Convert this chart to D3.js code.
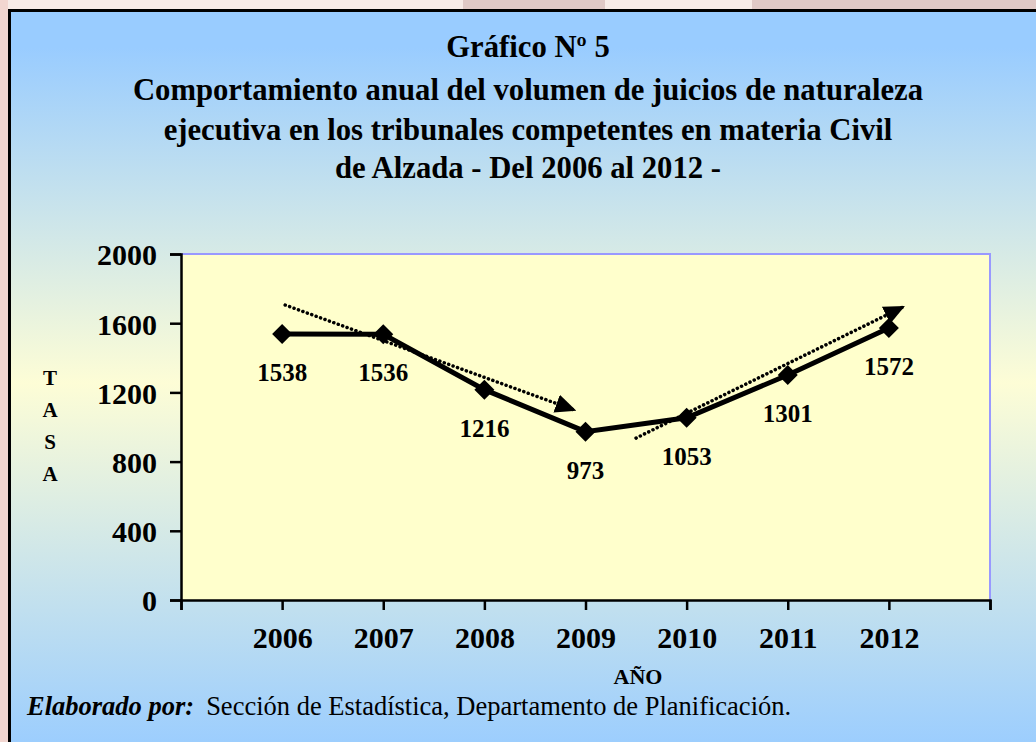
<!DOCTYPE html>
<html>
<head>
<meta charset="utf-8">
<script src="https://cdn.jsdelivr.net/npm/d3@7"></script>
<style>
  body { margin: 0; background: #f7ebe7; }
  svg { display: block; }
</style>
</head>
<body>
<div id="chart"></div>
<script>
// data
var years = [2006, 2007, 2008, 2009, 2010, 2011, 2012];
var values = [1538, 1536, 1216, 973, 1053, 1301, 1572];
var yTicks = [0, 400, 800, 1200, 1600, 2000];
// hand drawn trend arrows, [year, value] start -> end
var trendDown = [[2006.03, 1705], [2008.89, 1098]];
var trendUp = [[2009.5, 936], [2012.14, 1694]];
var titleLines = ["Gráfico Nº 5",
  "Comportamiento anual del volumen de juicios de naturaleza",
  "ejecutiva en los tribunales competentes en materia Civil",
  "de Alzada - Del 2006 al 2012 -"];

var W = 1036, H = 742;
var serif = "'Liberation Serif', 'Times New Roman', serif";

var svg = d3.select("#chart").append("svg")
  .attr("width", W)
  .attr("height", H);

var defs = svg.append("defs");
var grad = defs.append("linearGradient")
  .attr("id", "bg").attr("x1", 0).attr("x2", 0).attr("y1", 0).attr("y2", 1);
grad.append("stop").attr("offset", "0%").attr("stop-color", "#99ccff");
grad.append("stop").attr("offset", "5%").attr("stop-color", "#99ccff");
grad.append("stop").attr("offset", "50%").attr("stop-color", "#fdfdd6");
grad.append("stop").attr("offset", "100%").attr("stop-color", "#99ccff");

defs.append("marker")
  .attr("id", "arrow")
  .attr("viewBox", "0 0 10 10")
  .attr("refX", 9).attr("refY", 5)
  .attr("markerWidth", 21).attr("markerHeight", 21)
  .attr("markerUnits", "userSpaceOnUse")
  .attr("orient", "auto")
  .append("path")
  .attr("d", "M0,0.5 L10,5 L0,9.5 Z")
  .attr("fill", "#000");

// slide background behind the frame
svg.append("rect").attr("x", 463).attr("y", 0).attr("width", 142).attr("height", 10).attr("fill", "#e0c9c6");
svg.append("rect").attr("x", 752).attr("y", 0).attr("width", 284).attr("height", 10).attr("fill", "#e0c9c6");
svg.append("rect").attr("x", 0).attr("y", 0).attr("width", 8).attr("height", H).attr("fill", "#f2d6d0");

// framed panel
svg.append("rect")
  .attr("x", 9.5).attr("y", 10.5)
  .attr("width", 1040).attr("height", 745)
  .attr("fill", "url(#bg)")
  .attr("stroke", "#000")
  .attr("stroke-width", 3);

// title
svg.append("g").selectAll("text")
  .data(titleLines)
  .enter().append("text")
  .attr("x", 528)
  .attr("y", function(d, i) { return [57, 100, 140, 178][i]; })
  .attr("text-anchor", "middle")
  .attr("font-family", serif)
  .attr("font-weight", "bold")
  .attr("font-size", 30.7)
  .text(function(d) { return d; });

var x = d3.scaleLinear().domain([2005, 2013]).range([181, 990]);
var y = d3.scaleLinear().domain([0, 2000]).range([600, 254]);

// plot area
svg.append("rect")
  .attr("x", x(2005)).attr("y", y(2000))
  .attr("width", x(2013) - x(2005)).attr("height", y(0) - y(2000))
  .attr("fill", "#ffffcc");
svg.append("path")
  .attr("d", "M" + x(2005) + "," + y(2000) + "H" + x(2013) + "V" + y(0))
  .attr("fill", "none")
  .attr("stroke", "#9999ff")
  .attr("stroke-width", 2);

// axes
var yAxis = svg.append("g")
  .attr("transform", "translate(" + x(2005) + ",0)")
  .call(d3.axisLeft(y).tickValues(yTicks).tickSize(11).tickPadding(13).tickFormat(d3.format("d")));
var xAxis = svg.append("g")
  .attr("transform", "translate(0," + y(0) + ")")
  .call(d3.axisBottom(x).tickValues(d3.range(2005, 2014)).tickSize(10).tickPadding(17)
    .tickFormat(function(d) { return (d >= 2006 && d <= 2012) ? d : ""; }));

[yAxis, xAxis].forEach(function(a) {
  a.select(".domain").attr("stroke", "#000").attr("stroke-width", 2.5);
  a.selectAll(".tick line").attr("stroke", "#000").attr("stroke-width", 2.5);
  a.selectAll(".tick text")
    .attr("fill", "#000")
    .attr("font-family", serif)
    .attr("font-weight", "bold")
    .attr("font-size", 30);
});
yAxis.selectAll(".tick text").attr("dy", "0.36em");

// trend arrows
var line = d3.line().x(function(d) { return x(d[0]); }).y(function(d) { return y(d[1]); });
[trendDown, trendUp].forEach(function(t) {
  svg.append("path")
    .attr("d", line(t))
    .attr("fill", "none")
    .attr("stroke", "#000")
    .attr("stroke-width", 3.5)
    .attr("stroke-linecap", "round")
    .attr("stroke-dasharray", "0.1 4.6")
    .attr("marker-end", "url(#arrow)");
});

// data line
var pts = years.map(function(d, i) { return [d, values[i]]; });
svg.append("path")
  .attr("d", line(pts))
  .attr("fill", "none")
  .attr("stroke", "#000")
  .attr("stroke-width", 5);

svg.append("g").selectAll("path")
  .data(pts)
  .enter().append("path")
  .attr("transform", function(d) { return "translate(" + x(d[0]) + "," + y(d[1]) + ")"; })
  .attr("d", "M0,-10 L10,0 L0,10 L-10,0 Z")
  .attr("fill", "#000");

svg.append("g").selectAll("text")
  .data(pts)
  .enter().append("text")
  .attr("x", function(d) { return x(d[0]); })
  .attr("y", function(d) { return y(d[1]) + 47; })
  .attr("text-anchor", "middle")
  .attr("font-family", serif)
  .attr("font-weight", "bold")
  .attr("font-size", 25)
  .text(function(d) { return d[1]; });

// axis titles
svg.append("text")
  .attr("x", 638).attr("y", 684)
  .attr("text-anchor", "middle")
  .attr("font-family", serif).attr("font-weight", "bold").attr("font-size", 22)
  .text("AÑO");

svg.append("g").selectAll("text")
  .data("TASA".split(""))
  .enter().append("text")
  .attr("x", 50)
  .attr("y", function(d, i) { return 385 + i * 32; })
  .attr("text-anchor", "middle")
  .attr("font-family", serif).attr("font-weight", "bold").attr("font-size", 21)
  .text(function(d) { return d; });

// footer
var foot = svg.append("text")
  .attr("x", 27).attr("y", 715)
  .attr("font-family", serif).attr("font-size", 26.5);
foot.append("tspan").attr("font-weight", "bold").attr("font-style", "italic").text("Elaborado por:");
foot.append("tspan").attr("dx", 12).text("Sección de Estadística, Departamento de Planificación.");
</script>
</body>
</html>
